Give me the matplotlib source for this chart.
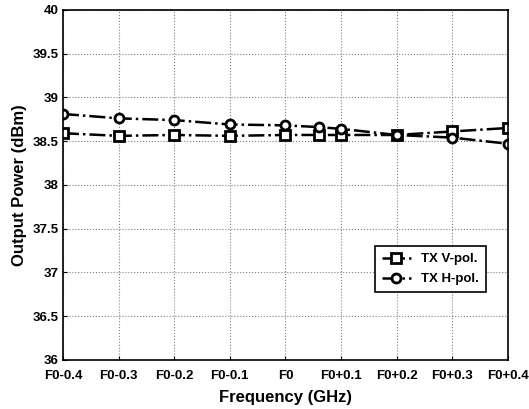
import matplotlib
matplotlib.use('Agg')
from matplotlib import pyplot as plt

plt.rcParams['font.family'] = ['Liberation Sans', 'DejaVu Sans']
plt.rcParams['font.weight'] = 'bold'

# frequency offsets from F0 (GHz)
freq = [-0.4, -0.3, -0.2, -0.1, 0.0, 0.06, 0.1, 0.2, 0.3, 0.4]
v_pol = [38.59, 38.56, 38.57, 38.56, 38.57, 38.57, 38.57, 38.57, 38.61, 38.65]
h_pol = [38.81, 38.76, 38.74, 38.69, 38.68, 38.66, 38.64, 38.57, 38.54, 38.47]

tick_pos = [-0.4, -0.3, -0.2, -0.1, 0.0, 0.1, 0.2, 0.3, 0.4]
tick_labels = ['F0-0.4', 'F0-0.3', 'F0-0.2', 'F0-0.1', 'F0',
               'F0+0.1', 'F0+0.2', 'F0+0.3', 'F0+0.4']
y_ticks = [36, 36.5, 37, 37.5, 38, 38.5, 39, 39.5, 40]

fig = plt.figure(figsize=(5.29, 4.09), dpi=100)
ax = fig.add_axes([0.119, 0.12, 0.841, 0.856])

ax.plot(freq, v_pol, color='black', linestyle='-.', linewidth=1.8,
        marker='s', markersize=6.5, markerfacecolor='white',
        markeredgecolor='black', markeredgewidth=2, label='TX V-pol.')
ax.plot(freq, h_pol, color='black', linestyle='-.', linewidth=1.8,
        marker='o', markersize=6.5, markerfacecolor='white',
        markeredgecolor='black', markeredgewidth=2, label='TX H-pol.')

ax.set_xlim(-0.4, 0.4)
ax.set_ylim(36, 40)
ax.set_xticks(tick_pos)
ax.set_xticklabels(tick_labels)
ax.set_yticks(y_ticks)
ax.set_yticklabels(['36', '36.5', '37', '37.5', '38', '38.5', '39', '39.5', '40'])
ax.tick_params(labelsize=9.5, direction='in', length=3)
ax.tick_params(axis='x', pad=7)
ax.tick_params(axis='y', pad=3)
ax.grid(True, linestyle=':', color='gray', linewidth=0.8)
for s in ax.spines.values():
    s.set_linewidth(1.2)

ax.set_xlabel('Frequency (GHz)', fontsize=12, fontweight='bold', labelpad=6)
ax.set_ylabel('Output Power (dBm)', fontsize=12, fontweight='bold', labelpad=4)

leg = ax.legend(loc='lower right', bbox_to_anchor=(0.965, 0.175), fontsize=9.5,
                fancybox=False, edgecolor='black', framealpha=1,
                handlelength=2.2, borderpad=0.5, labelspacing=0.6)
leg.get_frame().set_linewidth(1.2)

fig.savefig('out.png', dpi=100)
